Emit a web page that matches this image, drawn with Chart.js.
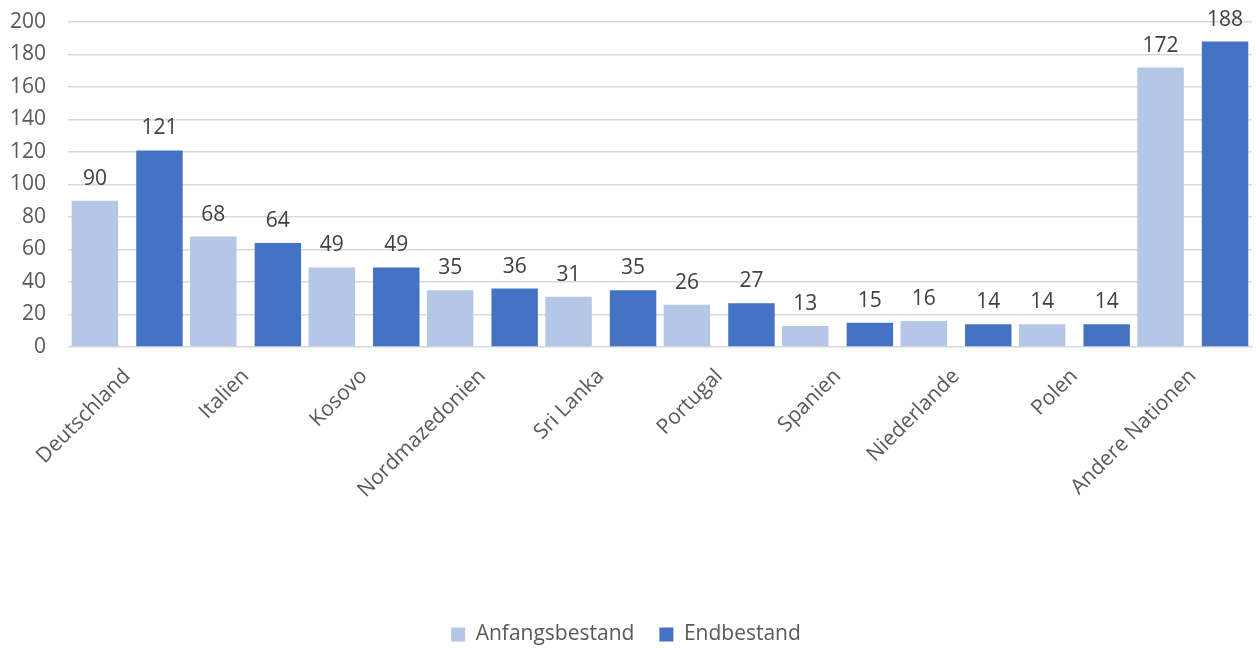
<!DOCTYPE html>
<html>
<head>
<meta charset="utf-8">
<script src="https://cdn.jsdelivr.net/npm/chart.js@4.4.0/dist/chart.umd.min.js"></script>
<style>
  html, body { margin: 0; padding: 0; background: #fff; }
  #wrap { width: 1256px; height: 648px; }
</style>
</head>
<body>
<div id="wrap"><canvas id="barChart"></canvas></div>
<script>
// Daten
const laender = ['Deutschland', 'Italien', 'Kosovo', 'Nordmazedonien', 'Sri Lanka', 'Portugal', 'Spanien', 'Niederlande', 'Polen', 'Andere Nationen'];
const anfangsbestand = [90, 68, 49, 35, 31, 26, 13, 16, 14, 172];
const endbestand = [121, 64, 49, 36, 35, 27, 15, 14, 14, 188];
const yTicks = [0, 20, 40, 60, 80, 100, 120, 140, 160, 180, 200];

const fontFamily = "'Open Sans', sans-serif";

// Werte über den Balken
const valueLabels = {
    id: 'valueLabels',
    afterDatasetsDraw(chart) {
        const ctx = chart.ctx;
        ctx.save();
        ctx.font = '21px ' + fontFamily;
        ctx.fillStyle = '#404040';
        ctx.textAlign = 'center';
        ctx.textBaseline = 'alphabetic';
        chart.data.datasets.forEach((ds, i) => {
            chart.getDatasetMeta(i).data.forEach((bar, j) => {
                ctx.fillText(ds.data[j], bar.x, bar.y - 16);
            });
        });
        ctx.restore();
    }
};

new Chart(document.getElementById('barChart').getContext('2d'), {
    type: 'bar',
    data: {
        labels: laender,
        datasets: [{
            label: 'Anfangsbestand',
            data: anfangsbestand,
            backgroundColor: '#B4C7E7',
        }, {
            label: 'Endbestand',
            data: endbestand,
            backgroundColor: '#4472C4',
        }]
    },
    options: {
        responsive: true,
        maintainAspectRatio: false,
        animation: false,
        categoryPercentage: 1.09,
        barPercentage: 0.72,
        layout: { padding: { top: 1, right: 4, bottom: -7, left: 0 } },
        plugins: {
            legend: {
                position: 'bottom',
                labels: {
                    boxWidth: 14, boxHeight: 14, padding: 25,
                    color: '#595959', font: { family: fontFamily, size: 21 }
                }
            },
            tooltip: { enabled: false }
        },
        scales: {
            x: {
                grid: { display: false },
                border: { display: false },
                ticks: {
                    autoSkip: false, maxRotation: 45, minRotation: 45, padding: 9,
                    color: '#595959', font: { family: fontFamily, size: 21 }
                },
                afterFit: (scale) => { scale.height = 252; }
            },
            y: {
                min: 0, max: 200,
                afterBuildTicks: (scale) => { scale.ticks = yTicks.map(v => ({ value: v })); },
                grid: { color: '#D9D9D9', lineWidth: 1.5, drawTicks: false },
                border: { display: false },
                ticks: {
                    padding: 22,
                    color: '#595959', font: { family: fontFamily, size: 21 }
                },
                afterFit: (scale) => {
                    scale.width = 68;
                    scale.paddingTop = 22;
                    scale.paddingBottom = 0;
                }
            }
        }
    },
    plugins: [valueLabels]
});
</script>
</body>
</html>
